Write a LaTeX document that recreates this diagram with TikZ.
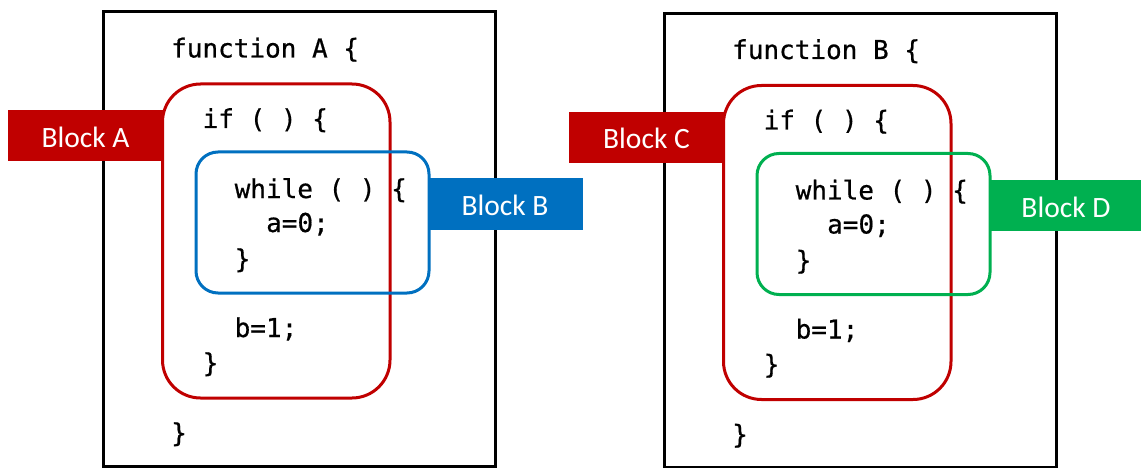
\documentclass[tikz,border=0pt]{standalone}
\usepackage{fontspec}
\newfontfamily\codefont[FakeBold=0.6]{DejaVu Sans Mono}
\newfontfamily\tagfont{Carlito}
\definecolor{redc}{HTML}{C00000}
\definecolor{bluec}{HTML}{0070C0}
\definecolor{greenc}{HTML}{00B050}
\tikzset{
  fnbox/.style={draw=black, line width=3pt, minimum width=392pt, minimum height=454pt, inner sep=0pt},
  ifbox/.style={draw=redc, line width=3pt, rounded corners=38pt, minimum width=227.5pt, minimum height=314pt, inner sep=0pt},
  loopbox/.style={line width=3pt, rounded corners=22pt, minimum width=233pt, minimum height=141pt, inner sep=0pt},
  tagbox/.style={minimum width=155pt, minimum height=51pt, inner sep=0pt, text=white,
    font=\tagfont\fontsize{29.5}{33}\selectfont, text height=23pt, text depth=0pt},
  codeline/.style={anchor=base west, inner sep=0pt, font=\codefont\fontsize{26}{30}\selectfont}
}
\newcommand{\codepanel}[7]{%
\begin{scope}[shift={(#1,#2)}, name prefix=#3-]
  \node[fnbox] (fn) at (299,239) {};
  \node[ifbox] (if) at (276.25,241) {};
  \node[loopbox, draw=#7] (loop) at (312.5,222.5) {};
  \node[tagbox, fill=redc] (outer) at (85.5,136) {Block #5};
  \node[tagbox, fill=#7] (inner) at (505,204) {Block #6};
  \node[codeline] (l1) at (171,57.5) {function #4 \{};
  \node[codeline] (l2) at (202.5,128) {if ( ) \{};
  \node[codeline] (l3) at (234.5,198) {while ( ) \{};
  \node[codeline] (l4) at (266,232) {a=0;};
  \node[codeline] (l5) at (234.5,268) {\}};
  \node[codeline] (l6) at (234.5,337) {b=1;};
  \node[codeline] (l7) at (202.5,372) {\}};
  \node[codeline] (l8) at (171,442) {\}};
\end{scope}}
\begin{document}
\begin{tikzpicture}[x=1pt,y=-1pt]
  \useasboundingbox[fill=white] (0,0) rectangle (1141,468);
  \codepanel{0}{0}{L}{A}{A}{B}{bluec}
  \codepanel{561}{1.5}{R}{B}{C}{D}{greenc}
\end{tikzpicture}
\end{document}
